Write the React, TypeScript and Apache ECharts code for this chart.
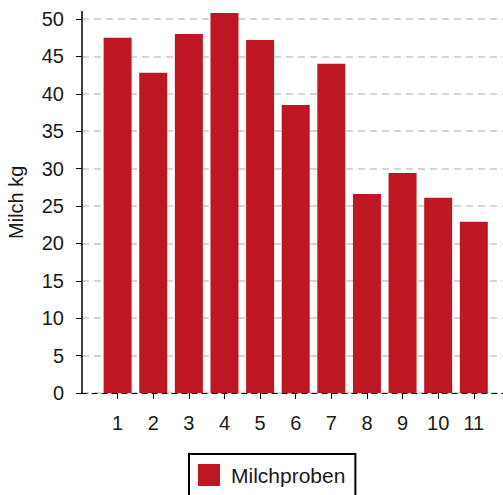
import React, { useEffect, useRef } from "react";
import * as echarts from "echarts";

const categories = [1, 2, 3, 4, 5, 6, 7, 8, 9, 10, 11];
const milkValues = [47.5, 42.8, 48.0, 50.8, 47.2, 38.5, 44.0, 26.6, 29.4, 26.1, 22.9];
const yTicks = [0, 5, 10, 15, 20, 25, 30, 35, 40, 45, 50];
const seriesName = "Milchproben";
const yAxisName = "Milch kg";

export default function App() {
  const ref = useRef<HTMLDivElement>(null);
  useEffect(() => {
    document.body.style.margin = "0";
    const chart = echarts.init(ref.current!, null, { renderer: "svg" });
    const font = "'Liberation Sans', Arial, sans-serif";
    chart.setOption({
      animation: false,
      textStyle: { fontFamily: font },
      grid: {
        left: 82,
        right: 0,
        top: 11.5,
        bottom: 102,
        containLabel: false,
        outerBoundsMode: "none",
      },
      xAxis: {
        type: "value",
        min: 0,
        max: 11.82,
        interval: 1,
        axisLine: { show: true, lineStyle: { color: "#000", width: 1, type: [5, 5] } },
        axisTick: { show: true, length: 6, lineStyle: { color: "#000" }, customValues: categories },
        axisLabel: {
          color: "#1a1a1a",
          fontSize: 20,
          margin: 20,
          fontFamily: font,
          customValues: categories,
        },
        splitLine: { show: false },
      },
      yAxis: {
        type: "value",
        min: 0,
        max: 51,
        interval: 5,
        name: yAxisName,
        nameLocation: "middle",
        nameGap: 56,
        nameTextStyle: { color: "#1a1a1a", fontSize: 20, fontFamily: font },
        axisLine: { show: true, lineStyle: { color: "#000", width: 1.5 } },
        axisTick: { show: true, length: 6, lineStyle: { color: "#000" }, customValues: yTicks },
        axisLabel: {
          color: "#1a1a1a",
          fontSize: 20,
          margin: 18,
          fontFamily: font,
          customValues: yTicks,
        },
        splitLine: {
          show: true,
          lineStyle: { color: "#c8c8c8", width: 1.5, type: [7, 5] },
        },
      },
      legend: {
        show: true,
        left: 189,
        top: 454,
        orient: "horizontal",
        borderColor: "#000",
        borderWidth: 2,
        borderRadius: 0,
        padding: [10, 10, 14, 9],
        itemWidth: 22,
        itemHeight: 22,
        icon: "rect",
        textStyle: { color: "#1a1a1a", fontSize: 21, fontFamily: font, padding: [0, 0, 0, 6] },
        data: [seriesName],
      },
      series: [
        {
          name: seriesName,
          type: "bar",
          barWidth: 28,
          itemStyle: { color: "#BE1724" },
          data: categories.map((c, i) => [c, milkValues[i]]),
        },
      ],
    });
    return () => chart.dispose();
  }, []);
  return (
    <div
      ref={ref}
      style={{ position: "absolute", left: 0, top: 0, width: 503, height: 495 }}
    />
  );
}
